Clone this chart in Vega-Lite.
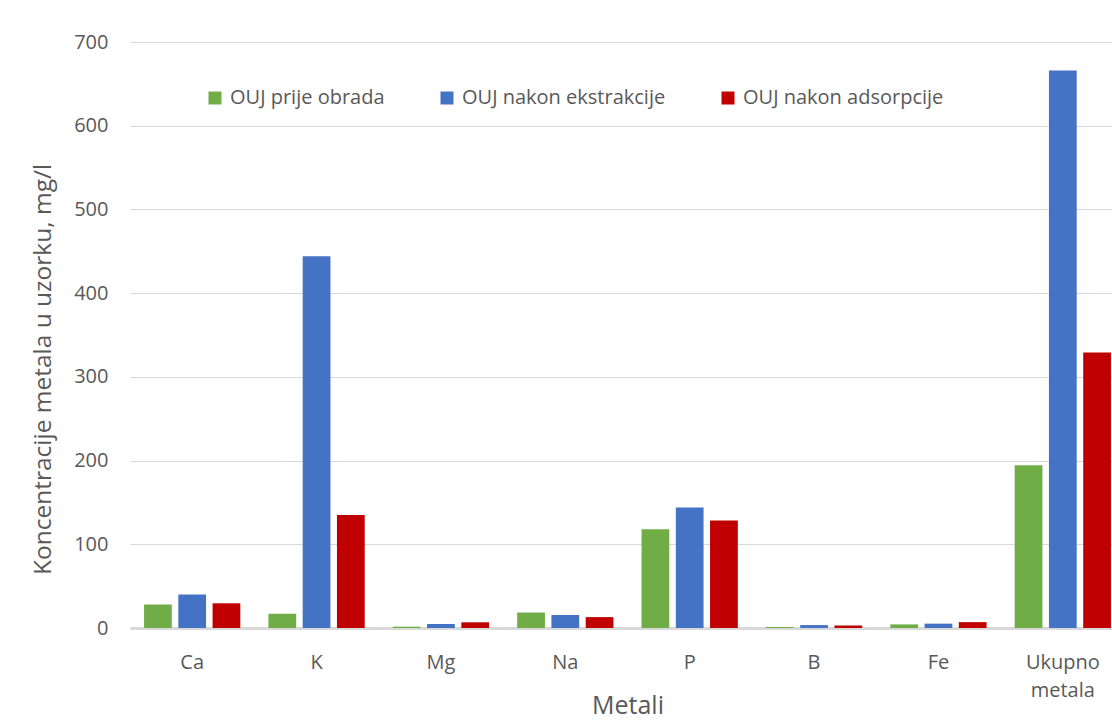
{
  "$schema": "https://vega.github.io/schema/vega-lite/v6.json",
  "width": 982,
  "height": 586,
  "autosize": {"type": "none"},
  "padding": {"left": 130, "top": 42, "right": 0, "bottom": 92},
  "background": "white",
  "config": {"view": {"stroke": null}, "font": "Open Sans"},
  "data": {
    "values": [
      {"metal": "Ca", "serija": "OUJ prije obrada", "vrijednost": 28},
      {"metal": "Ca", "serija": "OUJ nakon ekstrakcije", "vrijednost": 40},
      {"metal": "Ca", "serija": "OUJ nakon adsorpcije", "vrijednost": 29.5},
      {"metal": "K", "serija": "OUJ prije obrada", "vrijednost": 17},
      {"metal": "K", "serija": "OUJ nakon ekstrakcije", "vrijednost": 444},
      {"metal": "K", "serija": "OUJ nakon adsorpcije", "vrijednost": 135},
      {"metal": "Mg", "serija": "OUJ prije obrada", "vrijednost": 1.6},
      {"metal": "Mg", "serija": "OUJ nakon ekstrakcije", "vrijednost": 4.8},
      {"metal": "Mg", "serija": "OUJ nakon adsorpcije", "vrijednost": 6.8},
      {"metal": "Na", "serija": "OUJ prije obrada", "vrijednost": 18.5},
      {"metal": "Na", "serija": "OUJ nakon ekstrakcije", "vrijednost": 15.5},
      {"metal": "Na", "serija": "OUJ nakon adsorpcije", "vrijednost": 13},
      {"metal": "P", "serija": "OUJ prije obrada", "vrijednost": 118},
      {"metal": "P", "serija": "OUJ nakon ekstrakcije", "vrijednost": 144},
      {"metal": "P", "serija": "OUJ nakon adsorpcije", "vrijednost": 128.5},
      {"metal": "B", "serija": "OUJ prije obrada", "vrijednost": 1.2},
      {"metal": "B", "serija": "OUJ nakon ekstrakcije", "vrijednost": 3.5},
      {"metal": "B", "serija": "OUJ nakon adsorpcije", "vrijednost": 3},
      {"metal": "Fe", "serija": "OUJ prije obrada", "vrijednost": 4.3},
      {"metal": "Fe", "serija": "OUJ nakon ekstrakcije", "vrijednost": 5.2},
      {"metal": "Fe", "serija": "OUJ nakon adsorpcije", "vrijednost": 7},
      {"metal": "Ukupno metala", "serija": "OUJ prije obrada", "vrijednost": 194.5},
      {"metal": "Ukupno metala", "serija": "OUJ nakon ekstrakcije", "vrijednost": 666},
      {"metal": "Ukupno metala", "serija": "OUJ nakon adsorpcije", "vrijednost": 329}
    ]
  },
  "mark": {"type": "bar"},
  "encoding": {
    "x": {
      "field": "metal",
      "type": "nominal",
      "sort": ["Ca", "K", "Mg", "Na", "P", "B", "Fe", "Ukupno metala"],
      "scale": {"range": [0, 995], "paddingInner": 0.226, "paddingOuter": 0.113},
      "axis": {
        "title": "Metali",
        "titleFontSize": 25,
        "titleFontWeight": "normal",
        "titleColor": "#595959",
        "titleY": 85,
        "titleBaseline": "alphabetic",
        "labelAngle": 0,
        "labelFontSize": 20,
        "labelColor": "#595959",
        "labelPadding": 24,
        "labelLineHeight": 28,
        "labelExpr": "datum.label == 'Ukupno metala' ? ['Ukupno', 'metala'] : datum.label",
        "ticks": false,
        "domainColor": "#d9d9d9",
        "domainWidth": 3
      }
    },
    "xOffset": {
      "field": "serija",
      "type": "nominal",
      "sort": ["OUJ prije obrada", "OUJ nakon ekstrakcije", "OUJ nakon adsorpcije"],
      "scale": {"paddingInner": 0.19, "paddingOuter": 0}
    },
    "y": {
      "field": "vrijednost",
      "type": "quantitative",
      "scale": {"domain": [0, 700], "nice": false},
      "axis": {
        "title": "Koncentracije metala u uzorku, mg/l",
        "titleFontSize": 24.5,
        "titleFontWeight": "normal",
        "titleColor": "#595959",
        "titleX": -80,
        "titleY": 327,
        "titleBaseline": "alphabetic",
        "titleAngle": -90,
        "titleAlign": "center",
        "values": [0, 100, 200, 300, 400, 500, 600, 700],
        "labelFontSize": 20,
        "labelColor": "#595959",
        "labelPadding": 22,
        "ticks": false,
        "domain": false,
        "gridColor": "#d9d9d9",
        "gridWidth": 1.2
      }
    },
    "color": {
      "field": "serija",
      "type": "nominal",
      "sort": ["OUJ prije obrada", "OUJ nakon ekstrakcije", "OUJ nakon adsorpcije"],
      "scale": {
        "domain": ["OUJ prije obrada", "OUJ nakon ekstrakcije", "OUJ nakon adsorpcije"],
        "range": ["#70AD47", "#4472C4", "#C00000"]
      },
      "legend": {
        "title": null,
        "orient": "none",
        "legendX": 75,
        "legendY": 46,
        "direction": "horizontal",
        "columns": 3,
        "columnPadding": 52,
        "padding": 0,
        "symbolType": "square",
        "symbolSize": 169,
        "symbolStrokeWidth": 0,
        "symbolOpacity": 1,
        "labelFontSize": 20,
        "labelColor": "#595959",
        "labelOffset": 5,
        "labelLimit": 400
      }
    }
  }
}
